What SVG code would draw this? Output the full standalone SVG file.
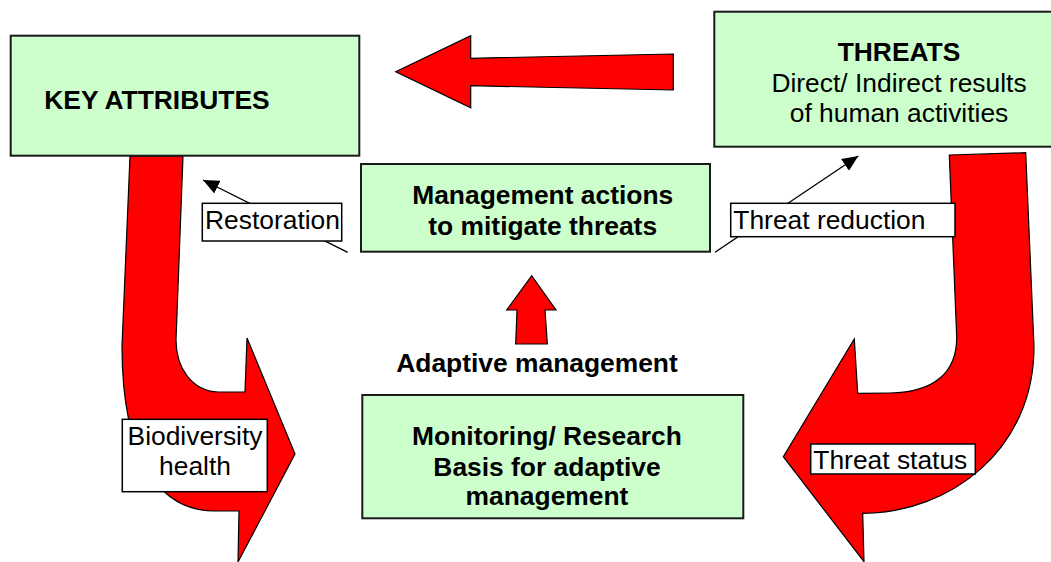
<svg xmlns="http://www.w3.org/2000/svg" width="1051" height="562" viewBox="0 0 1051 562">
<style>
.box{fill:#CCFFCC;stroke:#1a1a1a;stroke-width:2}
.lbl{fill:#ffffff;stroke:#000;stroke-width:1.5}
.red{fill:#FF0000;stroke:#000;stroke-width:1.2;stroke-linejoin:miter}
.t{font-family:"Liberation Sans",Arial,sans-serif;font-size:26.4px;fill:#000}
.b{font-weight:bold}
.m{text-anchor:middle}
.ln{stroke:#000;stroke-width:1.3;fill:none}
</style>
<defs>
<marker id="ah" markerUnits="userSpaceOnUse" markerWidth="18" markerHeight="14" refX="16" refY="7" orient="auto">
<path d="M0,0 L16,7 L0,14 Z" fill="#000"/>
</marker>
</defs>
<rect width="1051" height="562" fill="#fff"/>
<g id="connectors">
<path class="red" d="M673.3,54 L470.7,58.3 L470.7,35.7 L395.7,71.7 L470.7,107.7 L470.7,85.7 L673.3,90 Z"/>
<path class="red" d="M130,156 L183,156 L176,340 C176,368 192,391 218,392 L245,392 L247,338 L295,454 L238,562 L239,511 L213,511 C160,510 122,460 122,346 Z"/>
<path class="red" d="M949.3,155 L1025.7,152.7 L1034,346.7 C1034,450 950,513 862.7,513.3 L864,561.7 L783.3,456.7 L854.3,339 L857.7,393.3 L890,393 C935,392 957,372 956.7,336.7 Z"/>
<path class="red" d="M515.7,344 L517,310 L506.7,310 L531.7,275.7 L556,310 L545,310 L547.3,344 Z"/>
<line class="ln" x1="347.7" y1="252.3" x2="203" y2="180" marker-end="url(#ah)"/>
<line class="ln" x1="715" y1="252.3" x2="858.3" y2="156" marker-end="url(#ah)"/>
</g>
<g id="key-attributes">
<rect class="box" x="10.7" y="35.7" width="348.6" height="120"/>
<text class="t b" x="44.3" y="109.3">KEY ATTRIBUTES</text>
</g>
<g id="threats">
<rect class="box" x="714.3" y="11.7" width="370" height="135"/>
<text class="t b m" x="899" y="61">THREATS</text>
<text class="t m" x="899" y="91.7">Direct/ Indirect results</text>
<text class="t m" x="899" y="121.7">of human activities</text>
</g>
<g id="management">
<rect class="box" x="361" y="164" width="349" height="87.7"/>
<text class="t b m" x="542.7" y="204.3">Management actions</text>
<text class="t b m" x="542.7" y="235">to mitigate threats</text>
</g>
<g id="adaptive">
<text class="t b m" x="537" y="371.7">Adaptive management</text>
</g>
<g id="monitoring">
<rect class="box" x="362.3" y="395" width="381" height="123.3"/>
<text class="t b m" x="547" y="445">Monitoring/ Research</text>
<text class="t b m" x="547" y="475.5">Basis for adaptive</text>
<text class="t b m" x="547" y="505">management</text>
</g>
<g id="restoration">
<rect class="lbl" x="202.3" y="203.3" width="139.4" height="37.7"/>
<text class="t" x="205" y="229.3">Restoration</text>
</g>
<g id="threat-reduction">
<rect class="lbl" x="730.7" y="203.3" width="224.3" height="33.4"/>
<text class="t" x="733.3" y="229.3">Threat reduction</text>
</g>
<g id="biodiversity-health">
<rect class="lbl" x="122.3" y="419.3" width="145" height="72.4"/>
<text class="t m" x="195" y="445">Biodiversity</text>
<text class="t m" x="195" y="475">health</text>
</g>
<g id="threat-status">
<rect class="lbl" x="810.7" y="444" width="164.6" height="30"/>
<text class="t" x="813.3" y="469.3">Threat status</text>
</g>
</svg>
